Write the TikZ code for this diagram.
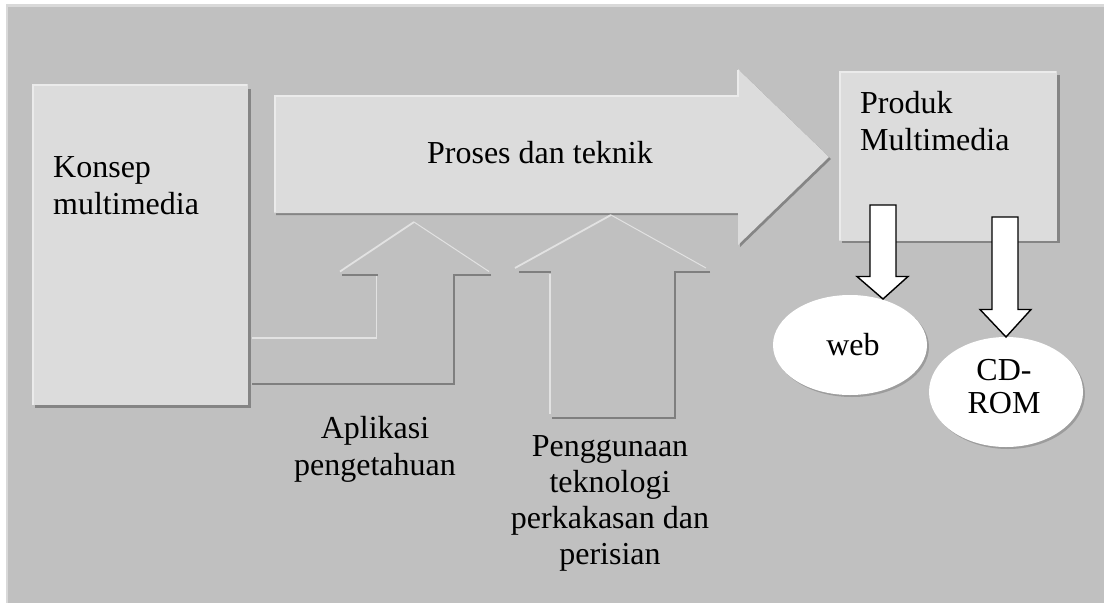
\documentclass[tikz,border=0pt]{standalone}
\usepackage{fontspec}
\setmainfont{Liberation Serif}
\definecolor{frameC}{HTML}{D9D9D9}
\definecolor{panelC}{HTML}{C0C0C0}
\definecolor{boxC}{HTML}{DCDCDC}
\definecolor{hiC}{HTML}{EBEBEB}
\definecolor{shC}{HTML}{858585}
\definecolor{lineHi}{HTML}{E2E2E2}
\definecolor{lineSh}{HTML}{7F7F7F}
\definecolor{ellSh}{HTML}{9C9C9C}
\tikzset{
  lbl/.style={font=\fontsize{32}{37}\selectfont, inner sep=0pt, text=black},
  hiline/.style={draw=hiC, line width=2pt},
  upHi/.style={draw=lineHi, line width=1.8pt},
  upSh/.style={draw=lineSh, line width=2pt},
  blockdown/.style={draw=black, fill=white, line width=1.4pt, line join=miter},
  ovalsh/.style={fill=ellSh},
  oval/.style={fill=white},
}
\begin{document}
\begin{tikzpicture}[x=1pt,y=-1pt]
\useasboundingbox (0,0) rectangle (1104,603);
% background
\fill[white] (0,0) rectangle (1104,603);
\fill[frameC] (6,4) rectangle (1104,603);
\fill[panelC] (8,7) rectangle (1104,603);

% Konsep box
\fill[shC] (35,89) rectangle (251,408);
\fill[boxC] (32,84) rectangle (248,405);
\draw[hiline] (33,405) -- (33,85) -- (247,85);
\node[lbl, anchor=north west, align=left] (konsep) at (53,156.8) {Konsep\\multimedia};

% Big right arrow
\fill[shC] (276,97) -- (740,97) -- (740,71) -- (831,159) -- (740,247) -- (740,215) -- (276,215) -- cycle;
\fill[boxC] (274,95) -- (738,95) -- (738,69) -- (829,157) -- (738,245) -- (738,213) -- (274,213) -- cycle;
\draw[hiline] (275,212) -- (275,96) -- (738,96) -- (738,70);
\node[lbl, anchor=base] (proses) at (540,163) {Proses dan teknik};

% Up arrow 1 (bent from Konsep box)
\draw[upHi] (252,338) -- (376.5,338) -- (376.5,274);
\draw[upHi] (340,271.5) -- (414,222);
\draw[draw=lineHi, line width=1pt] (414,222) -- (489,271.5);
\draw[upSh] (342,274.5) -- (377.5,274.5);
\draw[upSh] (491,274.5) -- (454,274.5) -- (454,384) -- (252,384);

% Up arrow 2
\draw[upHi] (515,268) -- (611,215);
\draw[draw=lineHi, line width=1pt] (611,215) -- (706,268);
\draw[upHi] (550,274) -- (550,414);
\draw[upSh] (519,272) -- (551,272);
\draw[upSh] (710,272) -- (675,272) -- (675,418) -- (552,418);

\node[lbl, anchor=north, align=center] (aplikasi) at (375,416.1) {Aplikasi\\pengetahuan};
\node[lbl, anchor=north, align=center, font=\fontsize{32}{36}\selectfont] (guna) at (610,435.5) {Penggunaan\\teknologi\\perkakasan dan\\perisian};

% Produk box
\fill[shC] (842,75) rectangle (1060,243);
\fill[boxC] (839,71) rectangle (1057,240.5);
\draw[hiline] (840,240) -- (840,72) -- (1056,72);
\node[lbl, anchor=north west, align=left] (produk) at (860,91.1) {Produk\\Multimedia};

% Ellipses
\fill[ovalsh] (852,347) ellipse [x radius=77, y radius=50];
\fill[oval] (850,345) ellipse [x radius=77, y radius=50];
\node[lbl, anchor=base] (web) at (853,355) {web};
\fill[ovalsh] (1008,394) ellipse [x radius=77, y radius=55];
\fill[oval] (1006,392) ellipse [x radius=77, y radius=55];
\node[lbl, anchor=north, align=center, font=\fontsize{32}{33}\selectfont] (cdrom) at (1004,358.8) {CD-\\ROM};

% Down block arrows
\draw[blockdown] (870,205) -- (896,205) -- (896,276.5) -- (908,276.5) -- (883,299) -- (857,276.5) -- (870,276.5) -- cycle;
\draw[blockdown] (992,217) -- (1018,217) -- (1018,309.5) -- (1031,309.5) -- (1006,337) -- (980,309.5) -- (992,309.5) -- cycle;
\end{tikzpicture}
\end{document}
